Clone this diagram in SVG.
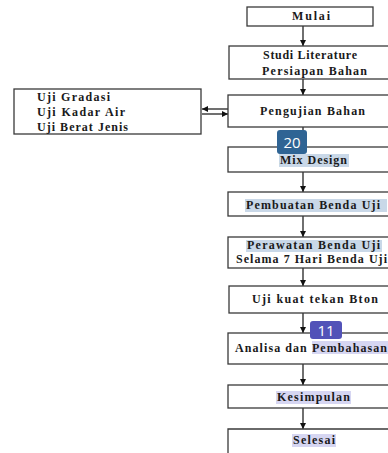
<svg xmlns="http://www.w3.org/2000/svg" width="388" height="453" viewBox="0 0 388 453">
<defs>
<marker id="ah" viewBox="0 0 10 10" refX="10" refY="5" markerWidth="6" markerHeight="6" orient="auto" markerUnits="userSpaceOnUse">
<path d="M0,0 L10,5 L0,10 z" fill="#111"/>
</marker>
<style>
.box{fill:#fff;stroke:#3a3a3a;stroke-width:1.3}
.t{font-family:"Liberation Serif","Times New Roman",serif;font-weight:bold;font-size:12px;fill:#1a1a1a}
.ln{stroke:#222;stroke-width:1.3;fill:none}
.hb{fill:#c9d8e8}
.hp{fill:#d6d6f2}
.badge{font-family:"Open Sans","Liberation Sans",sans-serif;font-size:15px;fill:#fff;text-anchor:middle}
</style>
</defs>
<rect width="388" height="453" fill="#fff"/>
<g id="connectors">
<line class="ln" x1="303" y1="26" x2="303" y2="46" marker-end="url(#ah)"/>
<line class="ln" x1="303" y1="79" x2="303" y2="95" marker-end="url(#ah)"/>
<line class="ln" x1="303" y1="127" x2="303" y2="147" marker-end="url(#ah)"/>
<line class="ln" x1="303" y1="172" x2="303" y2="192" marker-end="url(#ah)"/>
<line class="ln" x1="303" y1="216" x2="303" y2="237" marker-end="url(#ah)"/>
<line class="ln" x1="303" y1="268" x2="303" y2="286" marker-end="url(#ah)"/>
<line class="ln" x1="303" y1="313" x2="303" y2="333" marker-end="url(#ah)"/>
<line class="ln" x1="303" y1="364" x2="303" y2="385" marker-end="url(#ah)"/>
<line class="ln" x1="303" y1="408" x2="303" y2="429" marker-end="url(#ah)"/>
<line class="ln" x1="228" y1="109" x2="202" y2="109" marker-end="url(#ah)"/>
<line class="ln" x1="202" y1="114" x2="228" y2="114" marker-end="url(#ah)"/>
</g>
<g id="mulai">
<rect class="box" x="247" y="7" width="126" height="19"/>
<text class="t" x="292" y="20" textLength="38" lengthAdjust="spacing">Mulai</text>
</g>
<g id="studi">
<rect class="box" x="229" y="46" width="170" height="33"/>
<text class="t" x="263" y="59" textLength="94" lengthAdjust="spacing">Studi Literature</text>
<text class="t" x="262" y="75" textLength="105" lengthAdjust="spacing">Persiapan Bahan</text>
</g>
<g id="uji-list">
<rect class="box" x="14" y="89" width="187" height="45"/>
<text class="t" x="37" y="101" textLength="73" lengthAdjust="spacing">Uji Gradasi</text>
<text class="t" x="37" y="116" textLength="88" lengthAdjust="spacing">Uji Kadar  Air</text>
<text class="t" x="37" y="131" textLength="91" lengthAdjust="spacing">Uji Berat Jenis</text>
</g>
<g id="pengujian">
<rect class="box" x="228" y="95" width="170" height="32"/>
<text class="t" x="260" y="115" textLength="105" lengthAdjust="spacing">Pengujian Bahan</text>
</g>
<g id="mix">
<rect class="box" x="228" y="147" width="170" height="25"/>
<rect class="hb" x="279" y="154" width="70" height="13"/>
<text class="t" x="280" y="164" textLength="67" lengthAdjust="spacing">Mix Design</text>
</g>
<g id="pembuatan">
<rect class="box" x="228" y="192" width="170" height="24"/>
<rect class="hb" x="245" y="199" width="142" height="13"/>
<text class="t" x="246" y="209" textLength="134" lengthAdjust="spacing">Pembuatan Benda Uji</text>
</g>
<g id="perawatan">
<rect class="box" x="228" y="237" width="170" height="31"/>
<rect class="hb" x="246" y="240" width="136" height="12"/>
<text class="t" x="247" y="249" textLength="133" lengthAdjust="spacing">Perawatan Benda Uji</text>
<text class="t" x="236" y="263" textLength="151" lengthAdjust="spacing">Selama 7 Hari Benda Uji</text>
</g>
<g id="kuat">
<rect class="box" x="229" y="286" width="170" height="27"/>
<text class="t" x="252" y="303" textLength="126" lengthAdjust="spacing">Uji kuat tekan Bton</text>
</g>
<g id="analisa">
<rect class="box" x="228" y="333" width="170" height="31"/>
<rect class="hp" x="312" y="341" width="76" height="13"/>
<text class="t" x="235" y="352" textLength="152" lengthAdjust="spacing">Analisa dan Pembahasan</text>
</g>
<g id="kesimpulan">
<rect class="box" x="228" y="385" width="170" height="23"/>
<rect class="hp" x="276" y="391" width="75" height="13"/>
<text class="t" x="277" y="401" textLength="73" lengthAdjust="spacing">Kesimpulan</text>
</g>
<g id="selesai">
<path class="box" d="M228,460 V429 H398 V460"/>
<rect class="hp" x="292" y="434" width="44" height="13"/>
<text class="t" x="293" y="444" textLength="42" lengthAdjust="spacing">Selesai</text>
</g>
<g id="badge-20">
<rect x="277" y="130" width="30" height="24" rx="3" fill="#2f6494"/>
<text class="badge" x="292" y="148">20</text>
</g>
<g id="badge-11">
<rect x="310" y="321" width="32" height="18" rx="3" fill="#5252b8"/>
<text class="badge" x="326" y="336">11</text>
</g>
</svg>
